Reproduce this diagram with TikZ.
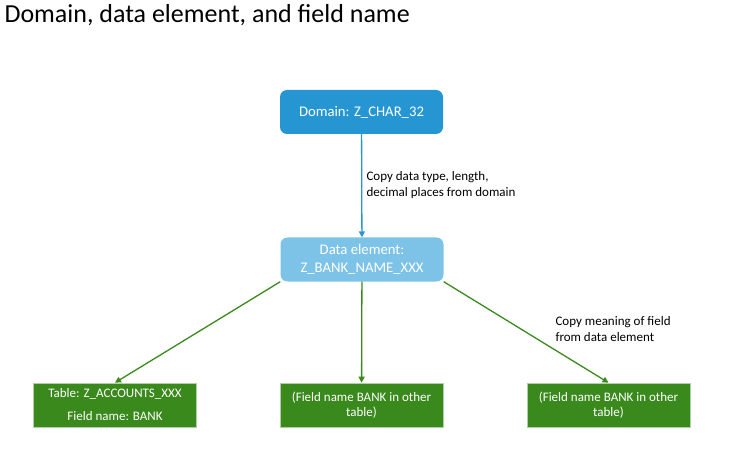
\documentclass[tikz,border=0pt]{standalone}
\usepackage{fontspec}
\setmainfont{Carlito}
\usetikzlibrary{arrows.meta,positioning}
\definecolor{domainblue}{HTML}{2596D1}
\definecolor{elemblue}{HTML}{7DC3E8}
\definecolor{fieldgreen}{HTML}{3A891D}
\tikzset{
  box/.style={minimum width=163pt, minimum height=44pt, text=white, align=center, font=\fontsize{14.7}{17.5}\selectfont},
  domainbox/.style={box, fill=domainblue, rounded corners=7pt},
  elembox/.style={box, fill=elemblue, rounded corners=7pt},
  fieldbox/.style={box, fill=fieldgreen, draw=fieldgreen!40, line width=0.6pt, font=\fontsize{13}{15.5}\selectfont},
  link/.style={line width=1.3pt, -{Triangle[length=6pt,width=6pt]}},
  note/.style={align=left, anchor=west, font=\fontsize{13}{16.5}\selectfont}
}
\begin{document}
\begin{tikzpicture}[x=1pt,y=-1pt]
			%%%%% START %%%%%
			
			\useasboundingbox (0, 0) rectangle (739, 465);
			
			\node[anchor=north west, font=\fontsize{26}{30}\selectfont] (title) at (1, 1) {Domain, data element, and field name};
			
			\node[domainbox] (domain) at (361.5, 112) {Domain: Z\_CHAR\_32};
			\node[elembox] (element) at (362, 259.5) {Data element:\\Z\_BANK\_NAME\_XXX};
			
			\node[fieldbox, font=\fontsize{13}{23}\selectfont] (table) at (115, 405) {Table: Z\_ACCOUNTS\_XXX\\Field name: BANK};
			\node[fieldbox] (othera) at (361.5, 405) {(Field name BANK in other\\table)};
			\node[fieldbox] (otherb) at (608.5, 405) {(Field name BANK in other\\table)};
			
			\draw[link, domainblue] (domain) -- (element);
			\node[note] (copytype) at (363, 185) {Copy data type, length,\\decimal places from domain};
			
			\draw[link, fieldgreen] (element.south west) -- (table.north);
			\draw[link, fieldgreen] (element) -- (othera);
			\draw[link, fieldgreen] (element.south east) -- (otherb.north);
			\node[note] (copymeaning) at (552, 329) {Copy meaning of field\\from data element};
			
			%%%%% END %%%%%
\end{tikzpicture}
\end{document}
